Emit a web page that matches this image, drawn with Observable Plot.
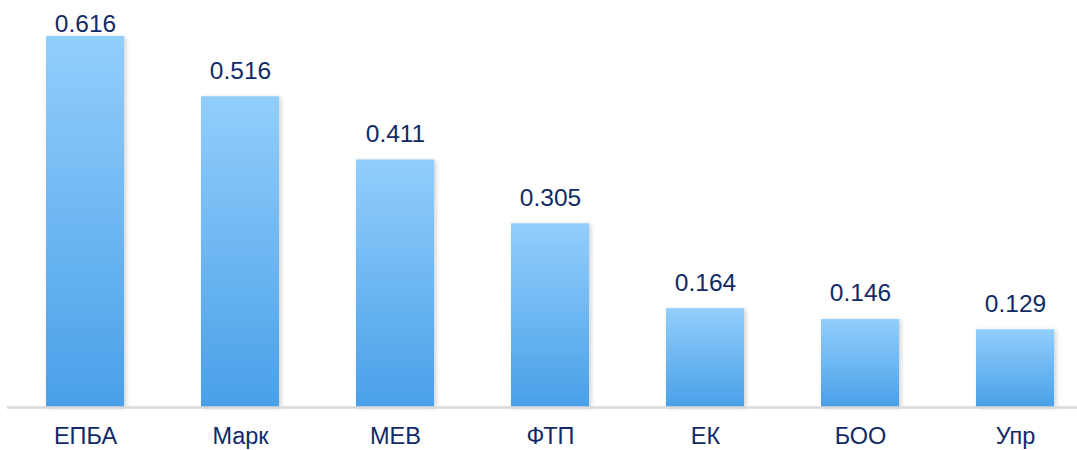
<!DOCTYPE html>
<html>
<head>
<meta charset="utf-8">
<script src="https://cdn.jsdelivr.net/npm/d3@7"></script>
<script src="https://cdn.jsdelivr.net/npm/@observablehq/plot@0.6"></script>
<style>
  html, body { margin: 0; padding: 0; background: #fff; }
  #chart svg { display: block; font-family: "Liberation Sans", Arial, sans-serif; }
  g[aria-label="bar"] rect { filter: drop-shadow(2px 1px 2px rgba(0,0,0,0.18)); }
</style>
</head>
<body>
<div id="chart"></div>
<script>
const categories = ["ЕПБА", "Марк", "МЕВ", "ФТП", "ЕК", "БОО", "Упр"];
const values = [0.616, 0.516, 0.411, 0.305, 0.164, 0.146, 0.129];
const labels = ["0.616", "0.516", "0.411", "0.305", "0.164", "0.146", "0.129"];

const data = categories.map((c, i) => ({cat: c, value: values[i], label: labels[i]}));
const maxValue = d3.max(values);

const chart = Plot.plot({
  width: 1077,
  height: 450,
  marginLeft: 7,
  marginRight: 0,
  marginTop: 0,
  marginBottom: 43,
  x: {domain: categories, range: [6.4, 1092.6], paddingInner: 0.5, paddingOuter: 0.25, axis: null},
  y: {domain: [0, 0.616], range: [407, 36], axis: null},
  marks: [
    Plot.barY(data, {x: "cat", y: "value", fill: "url(#barGrad)"}),
    Plot.ruleY([0], {stroke: "#d9d9d9", strokeWidth: 2.5}),
    // labels above bars (the tallest one is clamped inside the top edge)
    Plot.text(data.filter(d => d.value < maxValue), {x: "cat", y: "value", text: "label", dy: -26, fontSize: 24.5, fill: "#112a66"}),
    Plot.text(data.filter(d => d.value === maxValue), {x: "cat", frameAnchor: "top", text: "label", dy: 23.5, fontSize: 24.5, fill: "#112a66", lineAnchor: "middle"}),
    Plot.text(data, {x: "cat", y: 0, text: "cat", dy: 29, fontSize: 23.5, fill: "#112a66"})
  ]
});

const svg = d3.select(chart);
const defs = svg.insert("defs", ":first-child");
const g = defs.append("linearGradient").attr("id", "barGrad")
  .attr("x1", 0).attr("y1", 0).attr("x2", 0).attr("y2", 1);
g.append("stop").attr("offset", "0%").attr("stop-color", "#92cefc");
g.append("stop").attr("offset", "100%").attr("stop-color", "#49a0e8");

document.getElementById("chart").appendChild(chart);
</script>
</body>
</html>
